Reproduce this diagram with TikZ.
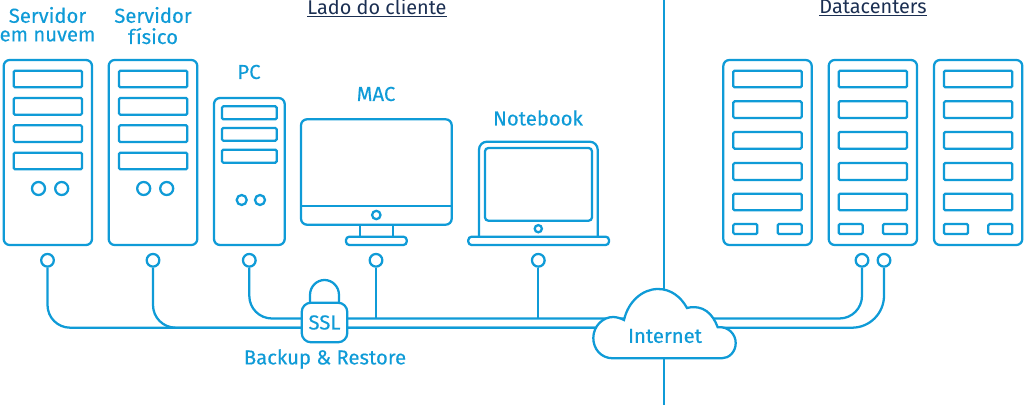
\documentclass[tikz,border=0pt]{standalone}
\usepackage{fontspec}
\setmainfont{Fira Sans}
\newfontfamily\devicefont[FakeBold=0.25]{Fira Sans}
\definecolor{netblue}{HTML}{0F9BD7}
\definecolor{headnavy}{HTML}{1B2F52}
\begin{document}
\begin{tikzpicture}[
x=0.75pt, y=-0.75pt,
line/.style={draw=netblue, line width=1.7pt},
case/.style={line, fill=white, rounded corners=4.5pt},
bay/.style={line, rounded corners=1pt},
led/.style={line, fill=white},
port/.style={circle, line, fill=white, minimum size=9.5pt, inner sep=0pt},
cable/.style={line, rounded corners=17pt},
device/.style={text=netblue, font=\devicefont\fontsize{15.2pt}{16pt}\selectfont, inner sep=0pt},
head/.style={text=headnavy, font=\fontsize{14.9pt}{16pt}\selectfont, inner sep=0pt},
]
\useasboundingbox (0,0) rectangle (1024,406);

%Headings
\node[head] (client) at (377,8) {\underline{Lado do cliente}};
\node[head] (datacenters) at (873,8) {\underline{Datacenters}};
\draw[line] (664.3,0) -- (664.3,405);

%Cloud server
\node[device] (cloudname) at (47.5,15) {Servidor};
\node[device] (cloudname2) at (47.5,36) {em nuvem};
\draw[case] (3.7,60) rectangle (92,245);
\draw[bay] (13.7,70.7) rectangle (82,87.3);
\draw[bay] (13.7,98) rectangle (82,114.7);
\draw[bay] (13.7,125.3) rectangle (82,142);
\draw[bay] (13.7,152.7) rectangle (82,169.3);
\draw[led] (38.5,188.5) circle[radius=6.5];
\draw[led] (61.7,188.5) circle[radius=6.5];

%Physical server
\node[device] (physname) at (153,15) {Servidor};
\node[device] (physname2) at (153,36) {físico};
\draw[case] (108.7,60) rectangle (197.3,245);
\draw[bay] (119,70.7) rectangle (187.3,87.3);
\draw[bay] (119,98) rectangle (187.3,114.7);
\draw[bay] (119,125.3) rectangle (187.3,142);
\draw[bay] (119,152.7) rectangle (187.3,169.3);
\draw[led] (143.7,188.5) circle[radius=6.5];
\draw[led] (166.7,188.5) circle[radius=6.5];

%PC
\node[device] (pcname) at (249,72) {PC};
\draw[case] (214,98) rectangle (284.7,245);
\draw[bay] (222,106.3) rectangle (276.7,119.3);
\draw[bay] (222,128) rectangle (276.7,140.7);
\draw[bay] (222,149.7) rectangle (276.7,162.7);
\draw[led] (241.7,200) circle[radius=5];
\draw[led] (260,200) circle[radius=5];

%MAC
\node[device] (macname) at (376,94) {MAC};
\draw[case] (301,119.3) rectangle (451.7,224.7);
\draw[line] (301,205.7) -- (451.7,205.7);
\draw[led] (376.3,215) circle[radius=4.2];
\draw[line] (360.3,224.7) -- (360.3,236.7);
\draw[line] (392.7,224.7) -- (392.7,236.7);
\draw[bay, rounded corners=2.5pt] (346,236.7) rectangle (406.7,245);

%Notebook
\node[device] (bookname) at (538,118) {Notebook};
\draw[line, rounded corners=6pt] (479,236.7) -- (479,141.7) -- (597.7,141.7) -- (597.7,236.7);
\draw[bay, rounded corners=2.5pt] (485,148) rectangle (592,220.7);
\draw[led] (538.3,228.7) circle[radius=3.6];
\draw[bay, rounded corners=2.5pt] (468.3,236.7) rectangle (609,245);

%Rack 1
\draw[case] (723.3,60) rectangle (811.7,245);
\draw[bay] (733.3,70.7) rectangle (801.7,87.3);
\draw[bay] (733.3,101.3) rectangle (801.7,118);
\draw[bay] (733.3,132) rectangle (801.7,148.7);
\draw[bay] (733.3,163) rectangle (801.7,180);
\draw[bay] (733.3,193.7) rectangle (801.7,210.3);
\draw[bay] (733.3,224) rectangle (757.3,234);
\draw[bay] (777.7,224) rectangle (801.7,234);

%Rack 2
\draw[case] (828.7,60) rectangle (917,245);
\draw[bay] (838.7,70.7) rectangle (907,87.3);
\draw[bay] (838.7,101.3) rectangle (907,118);
\draw[bay] (838.7,132) rectangle (907,148.7);
\draw[bay] (838.7,163) rectangle (907,180);
\draw[bay] (838.7,193.7) rectangle (907,210.3);
\draw[bay] (838.7,224) rectangle (862.7,234);
\draw[bay] (883,224) rectangle (907,234);

%Rack 3
\draw[case] (934,60) rectangle (1022.3,245);
\draw[bay] (944,70.7) rectangle (1012.3,87.3);
\draw[bay] (944,101.3) rectangle (1012.3,118);
\draw[bay] (944,132) rectangle (1012.3,148.7);
\draw[bay] (944,163) rectangle (1012.3,180);
\draw[bay] (944,193.7) rectangle (1012.3,210.3);
\draw[bay] (944,224) rectangle (968,234);
\draw[bay] (988.3,224) rectangle (1012.3,234);

%Ports
\node[port] (portcloud) at (47.5,260.3) {};
\node[port] (portphys) at (153,260.3) {};
\node[port] (portpc) at (249.3,260.3) {};
\node[port] (portmac) at (376,260.3) {};
\node[port] (portbook) at (538.3,260.3) {};
\node[port] (portrackA) at (862,260.3) {};
\node[port] (portrackB) at (884,260.3) {};

%Cables
\coordinate (busup) at (664.3,318.5);
\coordinate (buslow) at (664.3,327.7);
\draw[cable] (portcloud) |- (buslow);
\draw[cable] (portphys) |- (buslow);
\draw[cable] (portpc) |- (busup);
\draw[line] (portmac) -- (portmac |- busup);
\draw[line] (portbook) -- (portbook |- busup);
\draw[cable] (portrackA) |- (busup);
\draw[cable, rounded corners=24pt] (portrackB) |- (buslow);

%SSL lock
\draw[line] (310,302.7) -- (310,295) arc[start angle=180, end angle=0, x radius=14.5, y radius=-15] -- (339,302.7);
\node[case, rounded corners=7pt, minimum width=34.2pt, minimum height=29.7pt, inner sep=0pt, text=netblue, font=\devicefont\fontsize{15.2pt}{16pt}\selectfont] (ssl) at (324.5,322.5) {SSL};
\node[device] (backup) at (325,359) {Backup \& Restore};

%Cloud
\draw[line, fill=white] (613,358.3) .. controls (601,358.3) and (593.3,349) .. (593.3,338)
  .. controls (593.3,326) and (603,317) .. (613,317)
  .. controls (617,317) and (621,318.5) .. (624,320)
  .. controls (628,302) and (642,289) .. (658,289)
  .. controls (671,289) and (681,297) .. (687,308)
  .. controls (703,304) and (713,314) .. (717.7,327.3)
  .. controls (728,326) and (735.7,334) .. (735.7,343)
  .. controls (735.7,352) and (729,358.3) .. (721.7,358.3) -- cycle;
\node[device] (internet) at (665,336) {Internet};
\end{tikzpicture}
\end{document}
